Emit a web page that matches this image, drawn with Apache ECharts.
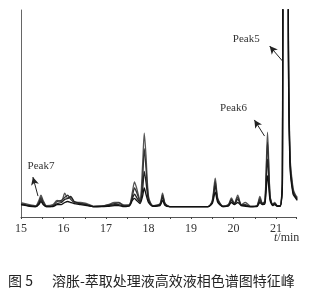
<!DOCTYPE html>
<html>
<head>
<meta charset="utf-8">
<script src="https://cdn.jsdelivr.net/npm/echarts@6/dist/echarts.min.js"></script>
<style>
  html, body { margin: 0; padding: 0; background: #fff; }
  #chart { width: 316px; height: 293px; }
</style>
</head>
<body>
<div id="chart"></div>
<script>
// retention time, min
const times = [
  15.0, 15.2, 15.35, 15.42, 15.47, 15.52, 15.6, 15.75, 15.85, 15.95,
  16.03, 16.1, 16.17, 16.25, 16.4, 16.55, 16.7, 16.9, 17.05, 17.2,
  17.3, 17.42, 17.55, 17.62, 17.67, 17.72, 17.8, 17.86, 17.9, 17.94,
  18.0, 18.1, 18.27, 18.33, 18.39, 18.5, 18.9, 19.4, 19.5, 19.57,
  19.63, 19.75, 19.88, 19.95, 20.02, 20.1, 20.18, 20.28, 20.4, 20.55,
  20.62, 20.68, 20.74, 20.8, 20.86, 20.92, 20.97, 21.03, 21.1, 21.15,
  21.2, 21.26, 21.29, 21.33, 21.4, 21.45, 21.5
];

// detector response of the overlaid samples (relative units)
const traceA = [
  7, 6, 5.5, 8, 10.5, 8, 5.5, 6, 8, 7.5,
  11.5, 9, 9.5, 7.5, 7, 6.5, 5.2, 5.3, 6, 7,
  7, 5.8, 6, 12, 17, 14, 8, 25, 40.5, 30,
  10, 5.5, 6.5, 11.5, 6.5, 5, 5, 5, 8, 18.8,
  9, 5.2, 6, 9.2, 6.5, 10.6, 6, 7, 5.2, 5.5,
  10, 6.5, 8, 41, 10, 6, 7, 5.5, 5.5, 20,
  600, 600, 100, 30, 14, 11, 9.5
];
const traceB = [
  6.5, 5.5, 5.2, 7, 9.5, 7.5, 5.2, 5.5, 7.5, 8,
  9.5, 10.5, 8.5, 7, 6.5, 6, 5, 5.2, 5.8, 6.5,
  6.8, 5.5, 5.8, 10, 14, 12, 7.5, 18, 33, 24,
  9, 5.5, 6, 10.5, 6.5, 5, 5, 5, 7.5, 17,
  8.5, 5.2, 5.8, 8.5, 6.5, 9.5, 6, 6, 5, 5.3,
  9, 6.5, 7.5, 36, 10, 6, 6.5, 5.5, 5.5, 18,
  560, 560, 95, 28, 13, 10.5, 9
];
const traceC = [
  6, 5.5, 5, 6.5, 8.5, 6.5, 5, 5.3, 6.5, 7,
  8.5, 9, 10, 7.5, 6.5, 5.8, 5, 5.2, 5.5, 6,
  6, 5.3, 5.5, 9, 11, 9.5, 7, 13, 22, 17,
  8, 5.3, 6, 9.5, 6, 5, 5, 5, 7, 15,
  8, 5, 5.5, 8, 6.3, 8.5, 5.8, 5.5, 5, 5.2,
  8, 6.5, 7, 28, 9, 6, 6.5, 5.3, 5.3, 16,
  520, 520, 90, 26, 12, 10, 8.5
];
const traceD = [
  6, 5.2, 5, 6, 7.5, 6, 5, 5, 6, 6,
  7, 7.5, 7, 6.5, 6, 5.5, 5, 5, 5.2, 5.5,
  5.5, 5, 5.3, 8, 9, 8, 6.5, 10, 14, 11,
  7, 5.2, 5.5, 8, 5.5, 5, 5, 5, 6.5, 12,
  7, 5, 5.3, 7, 6, 7, 5.5, 5.2, 5, 5,
  7, 6, 6.5, 20, 8, 5.5, 6, 5.2, 5.2, 15,
  480, 480, 85, 24, 11, 9.5, 8
];

const xTicks = [15, 16, 17, 18, 19, 20, 21];

// peak annotations: label position, arrow tail, arrow head
const peakNames = ['Peak5', 'Peak6', 'Peak7'];
const peakLabelAt = [[20.3, 86], [20.0, 52.7], [15.47, 24.6]];
const arrowFrom = [[21.15, 75.4], [20.73, 39.1], [15.4, 10.1]];
const arrowTo = [[20.85, 82.6], [20.49, 46.9], [15.28, 19.3]];

const traces = [traceA, traceB, traceC, traceD];
const traceColors = ['#555', '#333', '#222', '#111'];
const serif = "'Liberation Serif', 'Times New Roman', 'DejaVu Serif', serif";

const chart = echarts.init(document.getElementById('chart'));

const series = traces.map((vals, i) => ({
  type: 'line',
  data: times.map((t, j) => [t, vals[j]]),
  showSymbol: false,
  smooth: 0.25,
  lineStyle: { color: traceColors[i], width: 1.3 },
  silent: true,
}));

series[0].markLine = {
  silent: true,
  symbolSize: [6, 8],
  label: { show: false },
  lineStyle: { color: '#222', width: 1, type: 'solid' },
  data: arrowFrom.map((p, i) => [
    { coord: p, symbol: 'none' },
    { coord: arrowTo[i], symbol: 'arrow' },
  ]),
};
series[0].markPoint = {
  silent: true,
  symbol: 'circle',
  symbolSize: 0,
  label: {
    show: true,
    position: 'inside',
    color: '#333',
    fontFamily: serif,
    fontSize: 11,
    formatter: (p) => p.name,
  },
  data: peakNames.map((n, i) => ({ name: n, coord: peakLabelAt[i] })),
};

chart.setOption({
  animation: false,
  grid: { left: 21, right: 20, top: 10, bottom: 76 },
  xAxis: {
    type: 'value',
    min: 15,
    max: 21.47,
    interval: 0.5,
    axisLine: { lineStyle: { color: '#555', width: 1 } },
    axisTick: { length: 2, lineStyle: { color: '#444' } },
    splitLine: { show: false },
    axisLabel: {
      color: '#333',
      fontFamily: serif,
      fontSize: 12,
      margin: 6,
      formatter: (v) => (xTicks.includes(v) ? String(v) : ''),
    },
  },
  yAxis: {
    type: 'value',
    min: 0,
    max: 100,
    axisLine: { show: true, lineStyle: { color: '#666', width: 1 } },
    axisTick: { show: false },
    axisLabel: { show: false },
    splitLine: { show: false },
  },
  graphic: [
    {
      type: 'text',
      left: 274,
      top: 232,
      style: {
        text: '{i|t}/min',
        fill: '#333',
        fontFamily: serif,
        fontSize: 12,
        rich: { i: { fontStyle: 'italic', fontFamily: serif, fontSize: 12 } },
      },
    },
    {
      type: 'text',
      left: 8,
      top: 274,
      style: { text: '图 5', fill: '#222', fontFamily: 'Noto Sans CJK SC', fontSize: 14 },
    },
    {
      type: 'text',
      left: 52,
      top: 274,
      style: { text: '溶胀-萃取处理液高效液相色谱图特征峰', fill: '#222', fontFamily: 'Noto Sans CJK SC', fontSize: 14 },
    },
  ],
  series,
});
</script>
</body>
</html>
